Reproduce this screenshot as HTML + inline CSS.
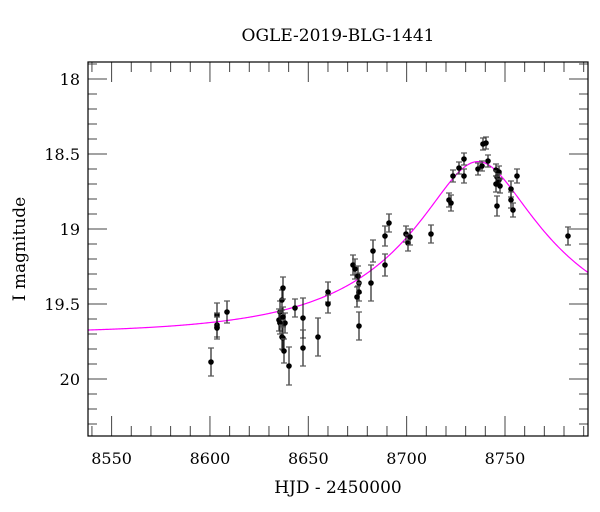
<!DOCTYPE html>
<html><head><meta charset="utf-8"><style>
html,body{margin:0;padding:0;background:#fff;width:600px;height:512px;overflow:hidden}
svg{display:block}
text{font-family:"DejaVu Serif","Liberation Serif",serif;fill:#000}
</style></head><body>
<svg id="s" width="600" height="512" viewBox="0 0 600 512" xmlns="http://www.w3.org/2000/svg">
<text x="338" y="41" font-size="17" text-anchor="middle">OGLE-2019-BLG-1441</text>
<text x="338" y="493" font-size="17" text-anchor="middle">HJD - 2450000</text>
<text transform="translate(25,249) rotate(-90)" font-size="17" text-anchor="middle">I magnitude</text>
<g id="ax"></g>
<rect x="88" y="62" width="500" height="374" fill="none" stroke="#000" stroke-width="1.2"/>
</svg>
<script>
var NS="http://www.w3.org/2000/svg",g=document.getElementById("ax");
function el(t,a,p){var e=document.createElementNS(NS,t);for(var k in a)e.setAttribute(k,a[k]);(p||g).appendChild(e);return e;}
var L=88,R=588,T=62,B=436,x0=8538,x1=8792.2;
function X(d){return L+(d-x0)*(R-L)/(x1-x0);}
function Y(m){return 79+(m-18)*150;}
for(var d=8540;d<=8790;d+=10){var x=X(d),maj=d%50==0,len=maj?20:10;
 el("line",{x1:x,y1:B,x2:x,y2:B-len,stroke:"#444","stroke-width":1});
 el("line",{x1:x,y1:T,x2:x,y2:T+len,stroke:"#444","stroke-width":1});
 if(maj){var t=el("text",{x:x,y:464,"font-size":16,"text-anchor":"middle"});t.textContent=d;}}
for(var i=0;i<=24;i++){var m=17.9+i*0.1,y=Y(m);if(y<T-0.5||y>B+0.5)continue;var maj=Math.abs(m*2-Math.round(m*2))<1e-6,len=maj?19:9;
 el("line",{x1:L,y1:y,x2:L+len,y2:y,stroke:"#444","stroke-width":1});
 el("line",{x1:R,y1:y,x2:R-len,y2:y,stroke:"#444","stroke-width":1});
 if(maj){var t=el("text",{x:80,y:y+6,"font-size":16,"text-anchor":"end"});var v=Math.round(m*10)/10;t.textContent=(v%1==0)?v:v.toFixed(1);}}
var p="",t0=8736.3,tE=81,u0=0.3,f=0.77,mb=19.70;
for(var x=L;x<=R;x+=1){var d=x0+(x-L)*(x1-x0)/(R-L),tau=(d-t0)/tE,u=Math.sqrt(u0*u0+tau*tau),A=(u*u+2)/(u*Math.sqrt(u*u+4)),m=mb-2.5*Math.log10(1+f*(A-1));
 p+=(x==L?"M":"L")+x+","+Y(m).toFixed(2);}
el("path",{d:p,fill:"none",stroke:"#ff00ff","stroke-width":1.2});
var pts=[[211,362,14],[217,315,12],[217,325,12],[217,328,11],[227,312,11],
[280,312,11],[279,320,11],[280,323,11],[282,300,10],[283,288,11],[282,337,12],[283,338,12],[284,351,12],[285,323,10],[283,317,10],
[289,366,19],[295,308,9],[303,318,20],[303,348,18],[318,337,19],[328,292,10],[328,304,9],
[353,265,10],[355,269,10],[358,276,10],[359,283,10],[359,292,9],[357,297,10],[359,326,14],[371,283,18],[373,251,11],[385,236,10],[385,265,11],[389,223,9],
[406,234,8],[408,243,8],[410,237,8],[431,234,9],[449,200,7],[451,203,8],[453,176,6],[464,159,6],[464,176,7],[459,168,6],
[478,169,6],[482,166,5],[483,144,6],[486,143,6],[488,161,6],[496,170,6],[497,177,6],[499,172,6],[499,180,6],[496,184,8],[500,186,7],[497,206,10],
[511,189,8],[511,200,8],[513,210,7],[517,176,7],[568,236,9]];
pts.forEach(function(q){var x=q[0],y=q[1],e=q[2];
 el("line",{x1:x,y1:y-e,x2:x,y2:y+e,stroke:"#222","stroke-width":1.2});
 el("line",{x1:x-3,y1:y-e,x2:x+3,y2:y-e,stroke:"#555","stroke-width":1.2});
 el("line",{x1:x-3,y1:y+e,x2:x+3,y2:y+e,stroke:"#555","stroke-width":1.2});
 el("circle",{cx:x,cy:y,r:2.8,fill:"#000"});});
</script>
</body></html>
